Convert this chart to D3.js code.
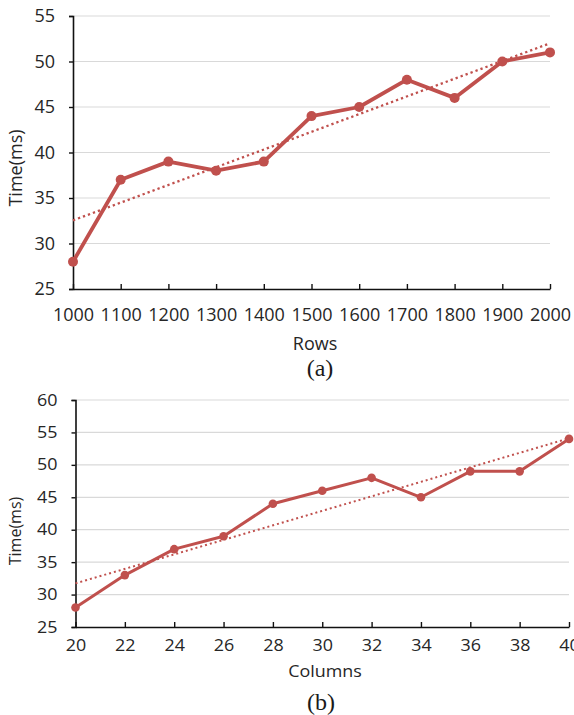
<!DOCTYPE html>
<html>
<head>
<meta charset="utf-8">
<script src="https://cdn.jsdelivr.net/npm/d3@7"></script>
<style>
  html, body { margin: 0; padding: 0; background: #fff; }
  svg { display: block; }
  .tick text, .axis-title { font-family: "Open Sans", sans-serif; fill: #262626; }
  .caption { font-family: "Liberation Serif", "Times New Roman", serif; fill: #1a1a1a; }
</style>
</head>
<body>
<svg id="chart" width="574" height="715"></svg>
<script>
// ── data ──────────────────────────────────────────────
const rowsCats   = [1000, 1100, 1200, 1300, 1400, 1500, 1600, 1700, 1800, 1900, 2000];
const rowsTime   = [28, 37, 39, 38, 39, 44, 45, 48, 46, 50, 51];
const rowsYTicks = [25, 30, 35, 40, 45, 50, 55];

const colsCats   = [20, 22, 24, 26, 28, 30, 32, 34, 36, 38, 40];
const colsTime   = [28, 33, 37, 39, 44, 46, 48, 45, 49, 49, 54];
const colsYTicks = [25, 30, 35, 40, 45, 50, 55, 60];

const RED = '#c0504d';
const svg = d3.select('#chart');

// least squares trend line (like Excel's linear trendline)
function linearFit(xs, ys) {
  const mx = d3.mean(xs), my = d3.mean(ys);
  let sxy = 0, sxx = 0;
  xs.forEach((x, i) => { sxy += (x - mx) * (ys[i] - my); sxx += (x - mx) * (x - mx); });
  const b = sxy / sxx, a = my - b * mx;
  return x => a + b * x;
}

function drawPanel(p) {
  const x = d3.scaleLinear().domain(d3.extent(p.cats)).range([p.left, p.right]);
  const y = d3.scaleLinear().domain(d3.extent(p.yTicks)).range([p.bottom, p.top]);
  const g = svg.append('g');

  // gridlines
  g.append('g').selectAll('line').data(p.yTicks.slice(1)).join('line')
    .attr('x1', p.left).attr('x2', p.right)
    .attr('y1', d => y(d)).attr('y2', d => y(d))
    .attr('stroke', '#d9d9d9').attr('stroke-width', 1.2);

  // y axis
  const ya = g.append('g').attr('transform', `translate(${p.left},0)`)
    .call(d3.axisLeft(y).tickValues(p.yTicks).tickFormat(d3.format('d')).tickSize(4).tickPadding(p.yPad));
  ya.select('.domain').attr('stroke', '#111').attr('stroke-width', 1.6);
  ya.selectAll('.tick line').attr('stroke', '#111').attr('stroke-width', 1.4);
  ya.selectAll('.tick text').style('font-size', p.fs + 'px')
    .attr('transform', `scale(${p.sx},1)`);

  // x axis, ticks pointing inward
  const xa = g.append('g').attr('transform', `translate(0,${p.bottom})`)
    .call(d3.axisBottom(x).tickValues(p.cats).tickFormat(d3.format('d'))
      .tickSize(-5).tickSizeOuter(0).tickPadding(p.xPad));
  xa.select('.domain').attr('stroke', '#111').attr('stroke-width', 1.6);
  xa.selectAll('.tick line').attr('stroke', '#111').attr('stroke-width', 1.4);
  xa.selectAll('.tick text').style('font-size', p.fs + 'px')
    .attr('transform', `scale(${p.sx},1)`);

  // trend line
  const fit = linearFit(p.cats, p.values);
  const ends = d3.extent(p.cats);
  g.append('line')
    .attr('x1', x(ends[0])).attr('y1', y(fit(ends[0])))
    .attr('x2', x(ends[1])).attr('y2', y(fit(ends[1])))
    .attr('stroke', RED).attr('stroke-width', p.dotW)
    .attr('stroke-dasharray', p.dash);

  // series
  const line = d3.line().x((d, i) => x(p.cats[i])).y(d => y(d));
  g.append('path').datum(p.values)
    .attr('d', line).attr('fill', 'none')
    .attr('stroke', RED).attr('stroke-width', p.lineW).attr('stroke-linejoin', 'round');
  g.append('g').selectAll('circle').data(p.values).join('circle')
    .attr('cx', (d, i) => x(p.cats[i])).attr('cy', d => y(d))
    .attr('r', p.r).attr('fill', RED);

  // titles
  g.append('text').attr('class', 'axis-title')
    .attr('transform', `translate(${p.yTitleX},${p.yTitleY}) rotate(-90)`)
    .attr('text-anchor', 'middle').attr('dominant-baseline', 'central')
    .style('font-size', p.yfs + 'px').text('Time(ms)');
  g.append('text').attr('class', 'axis-title')
    .attr('transform', `translate(${p.xTitleX},${p.xTitleY}) scale(${p.sx},1)`)
    .attr('text-anchor', 'middle').attr('dominant-baseline', 'central')
    .style('font-size', p.fs + 'px').text(p.xTitle);
  g.append('text').attr('class', 'caption')
    .attr('x', p.capX).attr('y', p.capY)
    .attr('text-anchor', 'middle').attr('dominant-baseline', 'central')
    .style('font-size', '24px').text(p.caption);
}

drawPanel({
  cats: rowsCats, values: rowsTime, yTicks: rowsYTicks,
  left: 73, right: 550, top: 16, bottom: 289,
  fs: 18, yfs: 18, sx: 1, yPad: 14, xPad: 19,
  lineW: 3.8, r: 5, dotW: 2.3, dash: '2.3,3',
  yTitleX: 15, yTitleY: 168, xTitle: 'Rows', xTitleX: 315, xTitleY: 343,
  caption: '(a)', capX: 320, capY: 368
});

drawPanel({
  cats: colsCats, values: colsTime, yTicks: colsYTicks,
  left: 75.5, right: 569, top: 400, bottom: 627,
  fs: 16, yfs: 16, sx: 1.12, yPad: 12, xPad: 13,
  lineW: 3, r: 4.3, dotW: 2, dash: '2,3',
  yTitleX: 15, yTitleY: 531, xTitle: 'Columns', xTitleX: 325, xTitleY: 671,
  caption: '(b)', capX: 321, capY: 702
});
</script>
</body>
</html>
